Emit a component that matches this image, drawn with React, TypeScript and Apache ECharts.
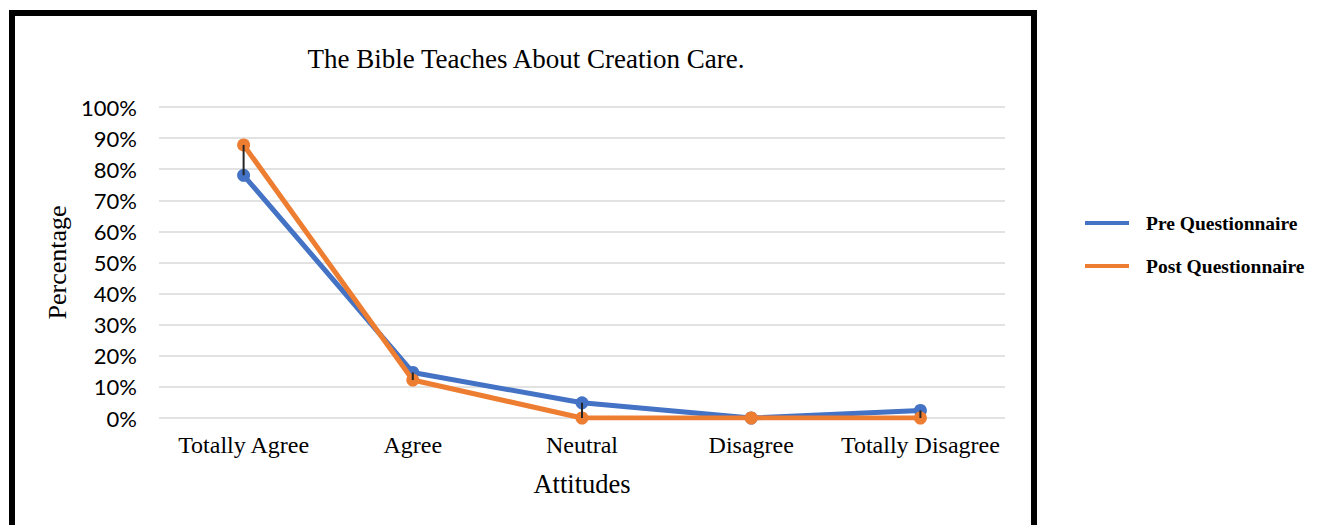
import React, { useEffect, useRef } from "react";
import * as echarts from "echarts";

// Share of respondents per attitude, before and after the course (percent)
const attitudes = ["Totally Agree", "Agree", "Neutral", "Disagree", "Totally Disagree"];
const preValues = [78.05, 14.63, 4.88, 0, 2.44];
const postValues = [87.8, 12.2, 0, 0, 0];
const seriesNames = ["Pre Questionnaire", "Post Questionnaire"];
const titleText = "The Bible Teaches About Creation Care.";

const BLUE = "#4472C4";
const ORANGE = "#ED7D31";
const SERIF = "'Liberation Serif', 'Times New Roman', serif";

export default function App() {
  const ref = useRef<HTMLDivElement>(null);

  useEffect(() => {
    if (!ref.current) return;
    const chart = echarts.init(ref.current, undefined, { renderer: "svg" });

    // high-low connectors between the two series at each category
    const hiLo = attitudes.map((_, i) => [i, preValues[i], postValues[i]]);

    chart.setOption({
      animation: false,
      backgroundColor: "#ffffff",
      title: {
        text: titleText,
        left: 521,
        top: 40,
        textAlign: "center",
        textStyle: { fontFamily: SERIF, fontSize: 27, fontWeight: "normal", color: "#000" },
      },
      legend: {
        orient: "vertical",
        left: 1080,
        top: 208,
        itemGap: 23,
        itemWidth: 44,
        itemHeight: 4,
        icon: "rect",
        data: seriesNames,
        textStyle: {
          fontFamily: SERIF,
          fontSize: 19.5,
          fontWeight: "bold",
          color: "#000",
          padding: [0, 0, 0, 12],
        },
      },
      grid: { left: 159, right: 314, top: 107, bottom: 107, containLabel: false },
      xAxis: {
        type: "category",
        data: attitudes,
        boundaryGap: true,
        name: "Attitudes",
        nameLocation: "middle",
        nameGap: 52,
        nameTextStyle: { fontFamily: SERIF, fontSize: 26.5, color: "#000" },
        axisLine: { show: false },
        axisTick: { show: false },
        axisLabel: { interval: 0, fontFamily: SERIF, fontSize: 24, color: "#000", margin: 15 },
      },
      yAxis: {
        type: "value",
        min: 0,
        max: 100,
        interval: 10,
        name: "Percentage",
        nameLocation: "middle",
        nameGap: 88,
        nameTextStyle: { fontFamily: SERIF, fontSize: 26, color: "#000" },
        axisLine: { show: false },
        axisTick: { show: false },
        axisLabel: {
          formatter: "{value}%",
          fontFamily: "Lato, 'Open Sans', sans-serif",
          fontSize: 22,
          color: "#000",
          margin: 22,
        },
        splitLine: { lineStyle: { color: "#d9d9d9", width: 1.5 } },
      },
      series: [
        {
          name: seriesNames[0],
          type: "line",
          data: preValues,
          color: BLUE,
          symbol: "circle",
          symbolSize: 13,
          lineStyle: { width: 5, color: BLUE },
          itemStyle: { color: BLUE },
          z: 2,
        },
        {
          name: seriesNames[1],
          type: "line",
          data: postValues,
          color: ORANGE,
          symbol: "circle",
          symbolSize: 13,
          lineStyle: { width: 5, color: ORANGE },
          itemStyle: { color: ORANGE },
          z: 3,
        },
        {
          type: "custom",
          data: hiLo,
          z: 5,
          silent: true,
          renderItem: (params: any, api: any) => {
            const a = api.coord([api.value(0), api.value(1)]);
            const b = api.coord([api.value(0), api.value(2)]);
            return {
              type: "line",
              shape: { x1: a[0], y1: a[1], x2: b[0], y2: b[1] },
              style: { stroke: "#262626", lineWidth: 2 },
            };
          },
        },
      ],
      graphic: [
        {
          type: "rect",
          shape: { x: 12, y: 13, width: 1022, height: 540 },
          style: { fill: "none", stroke: "#000", lineWidth: 6 },
          z: 100,
        },
      ],
    });

    return () => chart.dispose();
  }, []);

  return (
    <div
      ref={ref}
      style={{ position: "fixed", left: 0, top: 0, width: 1319, height: 525 }}
    />
  );
}
